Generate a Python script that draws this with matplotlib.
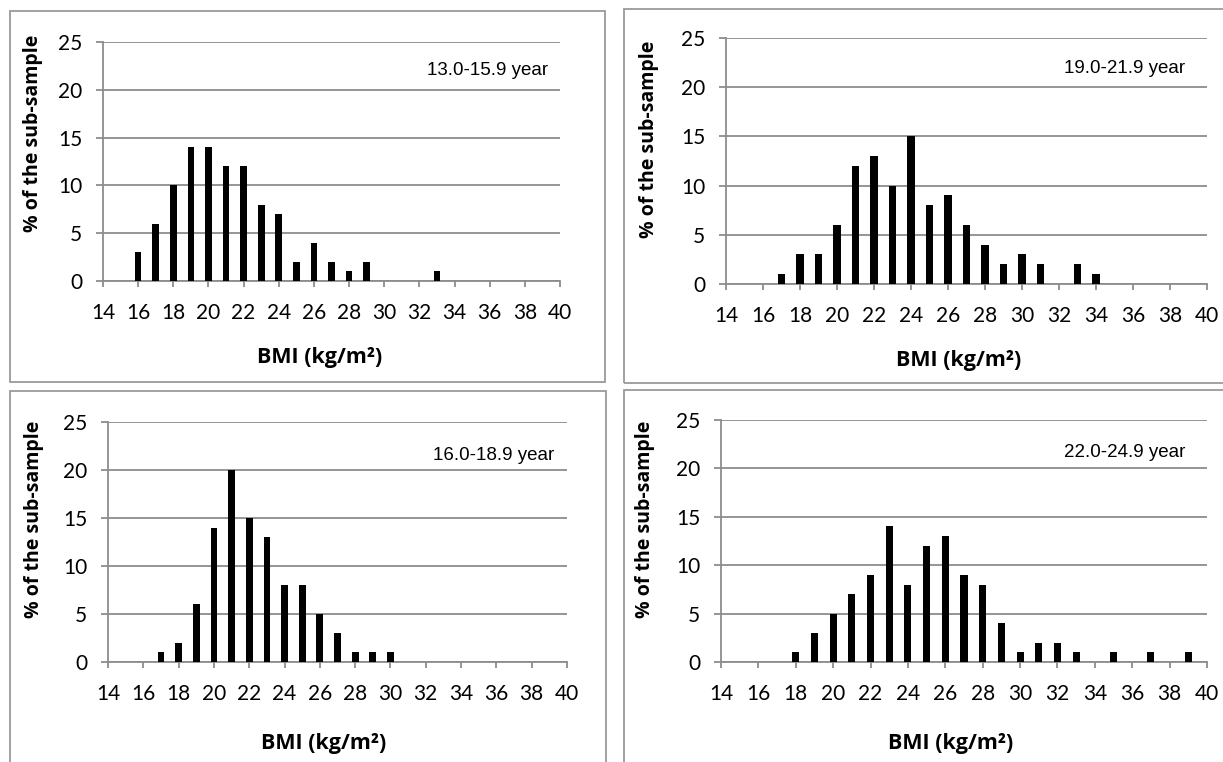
import matplotlib.pyplot as plt
from matplotlib.patches import Rectangle

# BMI bins and % of sub-sample per age group
bmi_1315 = [16, 17, 18, 19, 20, 21, 22, 23, 24, 25, 26, 27, 28, 29, 33]
pct_1315 = [3, 6, 10, 14, 14, 12, 12, 8, 7, 2, 4, 2, 1, 2, 1]

bmi_1921 = [17, 18, 19, 20, 21, 22, 23, 24, 25, 26, 27, 28, 29, 30, 31, 33, 34]
pct_1921 = [1, 3, 3, 6, 12, 13, 10, 15, 8, 9, 6, 4, 2, 3, 2, 2, 1]

bmi_1618 = [17, 18, 19, 20, 21, 22, 23, 24, 25, 26, 27, 28, 29, 30]
pct_1618 = [1, 2, 6, 14, 20, 15, 13, 8, 8, 5, 3, 1, 1, 1]

bmi_2224 = [18, 19, 20, 21, 22, 23, 24, 25, 26, 27, 28, 29, 30, 31, 32, 33, 35, 37, 39]
pct_2224 = [1, 3, 5, 7, 9, 14, 8, 12, 13, 9, 8, 4, 1, 2, 2, 1, 1, 1, 1]

labels = ["13.0-15.9 year", "19.0-21.9 year", "16.0-18.9 year", "22.0-24.9 year"]
x_ticks = list(range(14, 41, 2))
y_ticks = [0, 5, 10, 15, 20, 25]

W, H = 1223, 762
grid_col = "#8c8c8c"

fig = plt.figure(figsize=(W / 100, H / 100), dpi=100)

# panel frames in pixels: left, top, right, bottom
frames = [(10, 11, 605, 382), (624, 9, 1240, 383),
          (10, 391, 606, 780), (624, 390, 1240, 780)]
for x0, t, x1, b in frames:
    fig.patches.append(Rectangle((x0 / W, 1 - b / H), (x1 - x0) / W, (b - t) / H,
                                 transform=fig.transFigure, fill=False,
                                 edgecolor="#9a9a9a", linewidth=1.3))

# axes in pixels: left, right, top(25), bottom(0)
boxes = [(103, 560, 42, 281), (726, 1207, 38, 284),
         (108, 567, 422, 662), (721, 1207, 420, 662)]
text_pos = [(0.974, 0.879), (0.954, 0.878), (0.972, 0.861), (0.955, 0.867)]
xlab_xy = [(0.475, -0.322), (0.484, -0.31), (0.469, -0.34), (0.473, -0.337)]
ylab_xy = [(-0.154, 0.62), (-0.160, 0.59), (-0.162, 0.595), (-0.156, 0.59)]
data = [(bmi_1315, pct_1315), (bmi_1921, pct_1921),
        (bmi_1618, pct_1618), (bmi_2224, pct_2224)]

for i, ((l, r, t, b), (xs, ys)) in enumerate(zip(boxes, data)):
    ax = fig.add_axes([l / W, 1 - b / H, (r - l) / W, (b - t) / H])
    ax.bar(xs, ys, width=0.38, color="black", zorder=3)
    ax.set_xlim(14, 40)
    ax.set_ylim(0, 25)
    ax.set_xticks(x_ticks)
    ax.set_yticks(y_ticks)
    ax.set_xticklabels([str(v) for v in x_ticks], fontsize=15, family="Lato")
    ax.set_yticklabels([str(v) for v in y_ticks], fontsize=15, family="Lato")
    ax.grid(axis="y", color=grid_col, linewidth=1.3, zorder=0)
    for side in ["top", "right"]:
        ax.spines[side].set_visible(False)
    for side in ["left", "bottom"]:
        ax.spines[side].set_color(grid_col)
        ax.spines[side].set_linewidth(1.3)
    ax.tick_params(axis="x", length=4, color=grid_col, width=1.3, pad=12)
    ax.tick_params(axis="y", length=5, color=grid_col, width=1.3, pad=10)

    ax.set_xlabel("BMI (kg/m²)", fontsize=15.5, fontweight="bold", family="Open Sans")
    ax.xaxis.label.set_va("center")
    ax.xaxis.set_label_coords(*xlab_xy[i])
    ax.set_ylabel("% of the sub-sample", fontsize=14, fontweight="bold", family="Open Sans")
    ax.yaxis.label.set_va("center")
    ax.yaxis.set_label_coords(*ylab_xy[i])

    ax.text(text_pos[i][0], text_pos[i][1], labels[i], transform=ax.transAxes,
            ha="right", va="center", fontsize=13.5, family="Liberation Sans")

fig.savefig("out.png", dpi=100)
